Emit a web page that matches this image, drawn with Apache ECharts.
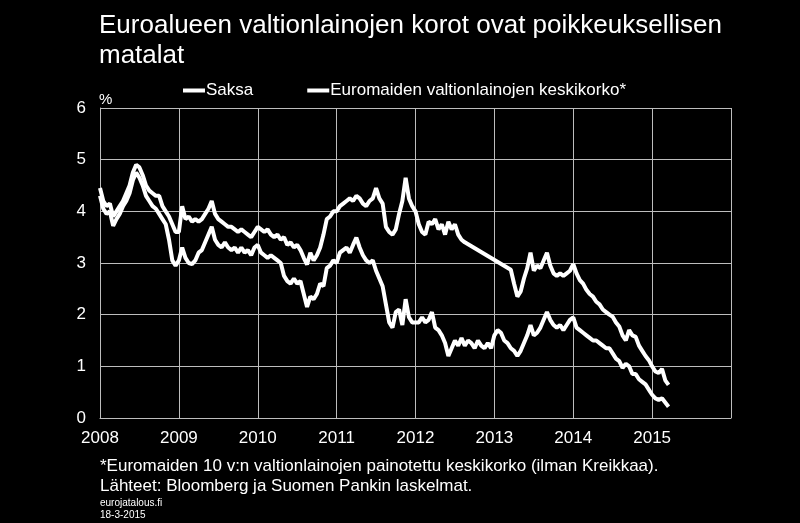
<!DOCTYPE html>
<html>
<head>
<meta charset="utf-8">
<script src="https://cdn.jsdelivr.net/npm/echarts@6/dist/echarts.min.js"></script>
<style>
  html, body { margin: 0; padding: 0; background: #000; }
  #MyChart { width: 800px; height: 523px; }
</style>
</head>
<body>
<div id="MyChart"></div>
<script>
// puolen kuukauden havainnot, alku 2008
var startYear = 2008
var stepsPerYear = 24

var seriesNames = ['Saksa', 'Euromaiden valtionlainojen keskikorko*']

var saksa = [
  // 2008
  4.30, 4.05, 3.95, 4.00, 3.72, 3.85, 3.95, 4.10, 4.20, 4.35, 4.60, 4.75, 4.65, 4.50, 4.30, 4.20, 4.10, 4.05, 3.95, 3.85, 3.75, 3.45, 3.05, 2.95,
  // 2009
  3.05, 3.30, 3.10, 3.00, 2.98, 3.05, 3.20, 3.25, 3.40, 3.55, 3.70, 3.45, 3.35, 3.30, 3.40, 3.30, 3.25, 3.30, 3.20, 3.30, 3.20, 3.25, 3.15, 3.30,
  // 2010
  3.35, 3.20, 3.15, 3.10, 3.15, 3.10, 3.05, 3.00, 2.75, 2.65, 2.60, 2.70, 2.60, 2.65, 2.40, 2.15, 2.35, 2.30, 2.40, 2.60, 2.55, 2.90, 2.95, 3.05,
  // 2011
  3.00, 3.20, 3.25, 3.30, 3.20, 3.35, 3.49, 3.30, 3.15, 3.05, 3.00, 3.05, 2.85, 2.70, 2.55, 2.20, 1.85, 1.75, 2.05, 2.10, 1.80, 2.30, 1.95, 1.85,
  // 2012
  1.85, 1.85, 1.95, 1.85, 1.90, 2.05, 1.75, 1.70, 1.60, 1.45, 1.20, 1.35, 1.50, 1.40, 1.55, 1.40, 1.50, 1.45, 1.35, 1.50, 1.40, 1.35, 1.45, 1.35,
  // 2013
  1.60, 1.70, 1.65, 1.50, 1.45, 1.35, 1.30, 1.20, 1.30, 1.45, 1.60, 1.80, 1.60, 1.65, 1.75, 1.90, 2.05, 1.90, 1.80, 1.75, 1.80, 1.70, 1.80, 1.90,
  // 2014
  1.95, 1.75, 1.70, 1.65, 1.60, 1.55, 1.50, 1.50, 1.45, 1.40, 1.35, 1.35, 1.25, 1.15, 1.10, 0.97, 1.05, 1.00, 0.85, 0.85, 0.75, 0.70, 0.65, 0.55,
  // 2015
  0.45, 0.38, 0.35, 0.38, 0.30, 0.22
]

var euroAvg = [
  // 2008
  4.45, 4.20, 4.10, 4.15, 3.90, 4.00, 4.10, 4.20, 4.35, 4.50, 4.75, 4.90, 4.85, 4.70, 4.50, 4.40, 4.35, 4.30, 4.30, 4.10, 4.00, 3.90, 3.75, 3.60,
  // 2009
  3.60, 4.10, 3.85, 3.90, 3.80, 3.85, 3.80, 3.85, 3.95, 4.05, 4.20, 3.95, 3.85, 3.80, 3.75, 3.70, 3.70, 3.65, 3.60, 3.65, 3.60, 3.55, 3.50, 3.60,
  // 2010
  3.70, 3.65, 3.60, 3.65, 3.55, 3.50, 3.55, 3.45, 3.50, 3.35, 3.40, 3.30, 3.35, 3.25, 3.10, 2.97, 3.20, 3.05, 3.15, 3.30, 3.55, 3.85, 3.90, 4.00,
  // 2011
  4.00, 4.10, 4.15, 4.20, 4.25, 4.20, 4.30, 4.25, 4.15, 4.10, 4.20, 4.25, 4.45, 4.25, 4.15, 3.70, 3.60, 3.55, 3.65, 3.95, 4.20, 4.65, 4.25, 4.10,
  // 2012 (aukko loppuvuonna)
  4.00, 3.75, 3.60, 3.55, 3.80, 3.75, 3.85, 3.65, 3.75, 3.55, 3.80, 3.65, 3.75, 3.55, 3.45, 3.40, null, null, null, null, null, null, null, null,
  // 2013
  null, null, null, null, null, 2.87, 2.60, 2.35, 2.45, 2.70, 2.90, 3.20, 2.85, 2.95, 2.90, 3.05, 3.20, 2.95, 2.80, 2.75, 2.80, 2.75, 2.80, 2.85,
  // 2014
  2.98, 2.80, 2.67, 2.60, 2.48, 2.40, 2.35, 2.25, 2.20, 2.10, 2.05, 2.00, 1.96, 1.85, 1.77, 1.60, 1.50, 1.70, 1.60, 1.57, 1.40, 1.30, 1.20, 1.12,
  // 2015
  1.00, 0.90, 0.87, 0.95, 0.73, 0.64
]

var yTicks = [0, 1, 2, 3, 4, 5, 6]
var xYearLabels = [2008, 2009, 2010, 2011, 2012, 2013, 2014, 2015]

var titleText = 'Euroalueen valtionlainojen korot ovat poikkeuksellisen\nmatalat'
var footNote = '*Euromaiden 10 v:n valtionlainojen painotettu keskikorko (ilman Kreikkaa).'
var sourceNote = 'Lähteet: Bloomberg ja Suomen Pankin laskelmat.'
var siteNote = 'eurojatalous.fi'
var dateNote = '18-3-2015'

function toPairs(values) {
  let out = []
  for (let i = 0; i < values.length; i++) {
    out.push([startYear + i / stepsPerYear, values[i]])
  }
  return out
}

var font = '"Liberation Sans", Arial, sans-serif'
var gridColor = '#bdbdbd'

let myChart = echarts.init(document.getElementById('MyChart'))
let option = {
  backgroundColor: '#000',
  animation: false,
  textStyle: { fontFamily: font, color: '#fff' },
  title: {
    text: titleText,
    left: 99,
    top: 11,
    padding: 0,
    textStyle: { color: '#fff', fontSize: 26, fontWeight: 'normal', lineHeight: 30, fontFamily: font }
  },
  legend: {
    left: 178,
    top: 77,
    itemGap: 54,
    itemWidth: 22,
    itemHeight: 4,
    icon: 'rect',
    textStyle: { color: '#fff', fontSize: 17, padding: [0, 0, 0, -4], fontFamily: font },
    data: seriesNames
  },
  grid: { left: 100, right: 69, top: 108, bottom: 105, containLabel: false },
  xAxis: {
    type: 'value',
    min: 2008,
    max: 2016,
    interval: 1,
    axisLine: { show: true, lineStyle: { color: gridColor, width: 1 } },
    axisTick: { show: false },
    axisLabel: {
      color: '#fff', fontSize: 17, margin: 12, fontFamily: font,
      formatter: function (v) { return xYearLabels.indexOf(v) >= 0 ? String(v) : '' }
    },
    splitLine: { show: true, lineStyle: { color: gridColor, width: 1 } }
  },
  yAxis: {
    type: 'value',
    min: yTicks[0],
    max: yTicks[yTicks.length - 1],
    interval: 1,
    name: '%',
    nameLocation: 'end',
    nameGap: 1,
    nameTextStyle: { color: '#fff', fontSize: 15, align: 'left', verticalAlign: 'bottom', padding: [0, 0, 0, -1], fontFamily: font },
    axisLine: { show: true, lineStyle: { color: gridColor, width: 1 } },
    axisTick: { show: false },
    axisLabel: { color: '#fff', fontSize: 17, margin: 14, fontFamily: font },
    splitLine: { show: true, lineStyle: { color: gridColor, width: 1 } }
  },
  graphic: [
    { type: 'text', left: 100, top: 458, style: { text: footNote, fill: '#fff', font: '17px ' + font } },
    { type: 'text', left: 100, top: 478, style: { text: sourceNote, fill: '#fff', font: '17px ' + font } },
    { type: 'text', left: 100, top: 498, style: { text: siteNote, fill: '#fff', font: '10px ' + font } },
    { type: 'text', left: 100, top: 510, style: { text: dateNote, fill: '#fff', font: '10px ' + font } }
  ],
  series: [
    {
      name: seriesNames[0],
      type: 'line',
      data: toPairs(saksa),
      showSymbol: false,
      symbol: 'none',
      itemStyle: { color: '#fff' },
      lineStyle: { color: '#fff', width: 4 }
    },
    {
      name: seriesNames[1],
      type: 'line',
      data: toPairs(euroAvg),
      showSymbol: false,
      symbol: 'none',
      connectNulls: true,
      itemStyle: { color: '#fff' },
      lineStyle: { color: '#fff', width: 4 }
    }
  ]
}
myChart.setOption(option)
</script>
</body>
</html>
